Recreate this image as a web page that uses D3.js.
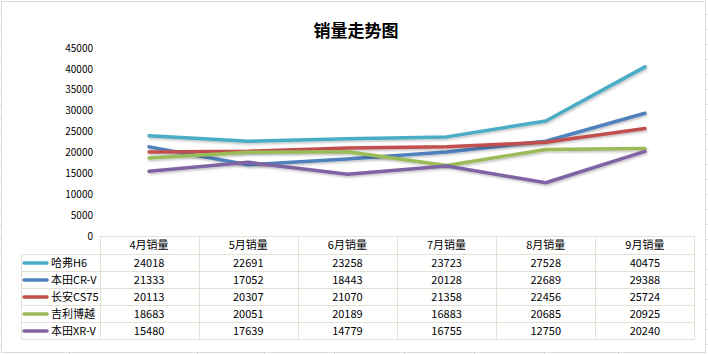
<!DOCTYPE html>
<html><head><meta charset="utf-8">
<script src="https://cdn.jsdelivr.net/npm/d3@7"></script>
<style>
html,body{margin:0;padding:0;background:#fff;}
svg{display:block;font-family:"Noto Sans CJK SC","Noto Sans",sans-serif;}
</style></head>
<body><svg id="c" width="708" height="354"></svg>
<script>
const title = "销量走势图";
const categories = ["4月销量","5月销量","6月销量","7月销量","8月销量","9月销量"];
const seriesNames = ["哈弗H6","本田CR-V","长安CS75","吉利博越","本田XR-V"];
const seriesColors = ["#4bacc6","#4f81bd","#c0504d","#9bbb59","#8064a2"];
const haval = [24018,22691,23258,23723,27528,40475];
const crv = [21333,17052,18443,20128,22689,29388];
const cs75 = [20113,20307,21070,21358,22456,25724];
const boyue = [18683,20051,20189,16883,20685,20925];
const xrv = [15480,17639,14779,16755,12750,20240];
const yTicks = [0,5000,10000,15000,20000,25000,30000,35000,40000,45000];
const seriesValues = [haval, crv, cs75, boyue, xrv];

const svg = d3.select("#c");
const gridC = "#e3e0d6";

// spreadsheet remnants
const sheet = svg.append("g");
for (let y = 14; y < 354; y += 15) {
  sheet.append("line").attr("x1",0).attr("x2",2).attr("y1",y+0.5).attr("y2",y+0.5).attr("stroke",gridC);
  sheet.append("line").attr("x1",706).attr("x2",708).attr("y1",y+0.5).attr("y2",y+0.5).attr("stroke",gridC);
}
[69,197,264,334,404,474,544,618].forEach(x=>{
  sheet.append("line").attr("x1",x+0.5).attr("x2",x+0.5).attr("y1",352).attr("y2",354).attr("stroke",gridC);
});
// chart frame
svg.append("rect").attr("x",1.5).attr("y",1.5).attr("width",704).attr("height",351)
  .attr("fill","#fff").attr("stroke","#d9d9d9");

svg.append("text").attr("x",356).attr("y",37).attr("text-anchor","middle")
  .attr("font-size",17).attr("font-weight","bold").attr("fill","#000").text(title);

const x = d3.scaleBand().domain(categories).range([99.5,694.5]).padding(0);
const y = d3.scaleLinear().domain([0,45000]).range([236,48]);

// y axis labels
const yAxis = d3.axisLeft(y).tickValues(yTicks).tickSize(0).tickPadding(0).tickFormat(d3.format("d"));
const ga = svg.append("g").attr("transform","translate(93,0)").call(yAxis);
ga.select(".domain").remove();
ga.selectAll("text").attr("font-size",10).attr("fill","#000").attr("font-family","'Noto Sans CJK SC',sans-serif");

// shadow filter
const defs = svg.append("defs");
const f = defs.append("filter").attr("id","sh").attr("x","-10%").attr("y","-10%").attr("width","120%").attr("height","130%");
f.append("feDropShadow").attr("dx",1).attr("dy",1.5).attr("stdDeviation",1).attr("flood-color","#000").attr("flood-opacity",0.25);

const line = d3.line().x((d,i)=>x(categories[i])+x.bandwidth()/2).y(d=>y(d));
seriesValues.forEach((vals,k)=>{
  svg.append("path").datum(vals).attr("d",line).attr("fill","none")
    .attr("stroke",seriesColors[k]).attr("stroke-width",3.5)
    .attr("stroke-linecap","round").attr("stroke-linejoin","round").attr("filter","url(#sh)");
});

// data table
const headTop = 236, headH = 18, rowH = 17;
const tbl = svg.append("g").attr("stroke",gridC).attr("stroke-width",1);
const tableBottom = headTop + headH + rowH*seriesNames.length;
// horizontal lines
tbl.append("line").attr("x1",99.5).attr("x2",694.5).attr("y1",headTop+0.5).attr("y2",headTop+0.5);
for (let r=0;r<=seriesNames.length;r++){
  const yy = headTop+headH+r*rowH+0.5;
  tbl.append("line").attr("x1",21.5).attr("x2",694.5).attr("y1",yy).attr("y2",yy);
}
// vertical lines
tbl.append("line").attr("x1",21.5).attr("x2",21.5).attr("y1",headTop+headH).attr("y2",tableBottom+0.5);
categories.forEach(c=>{
  tbl.append("line").attr("x1",Math.round(x(c))+0.5).attr("x2",Math.round(x(c))+0.5).attr("y1",headTop).attr("y2",tableBottom+0.5);
});
tbl.append("line").attr("x1",694.5).attr("x2",694.5).attr("y1",headTop).attr("y2",tableBottom+0.5);

const tx = svg.append("g").attr("font-size",11).attr("fill","#000");
categories.forEach(c=>{
  tx.append("text").attr("x",x(c)+x.bandwidth()/2).attr("y",headTop+headH/2).attr("dy","0.36em")
    .attr("text-anchor","middle").text(c);
});
seriesNames.forEach((n,k)=>{
  const cy = headTop+headH+k*rowH+rowH/2+0.5;
  svg.append("line").attr("x1",24).attr("x2",47).attr("y1",cy).attr("y2",cy)
    .attr("stroke",seriesColors[k]).attr("stroke-width",3.5).attr("stroke-linecap","round");
  tx.append("text").attr("x",51).attr("y",cy).attr("dy","0.36em").text(n);
  seriesValues[k].forEach((v,i)=>{
    tx.append("text").attr("x",x(categories[i])+x.bandwidth()/2).attr("y",cy).attr("dy","0.36em")
      .attr("text-anchor","middle").text(v);
  });
});
</script></body></html>
